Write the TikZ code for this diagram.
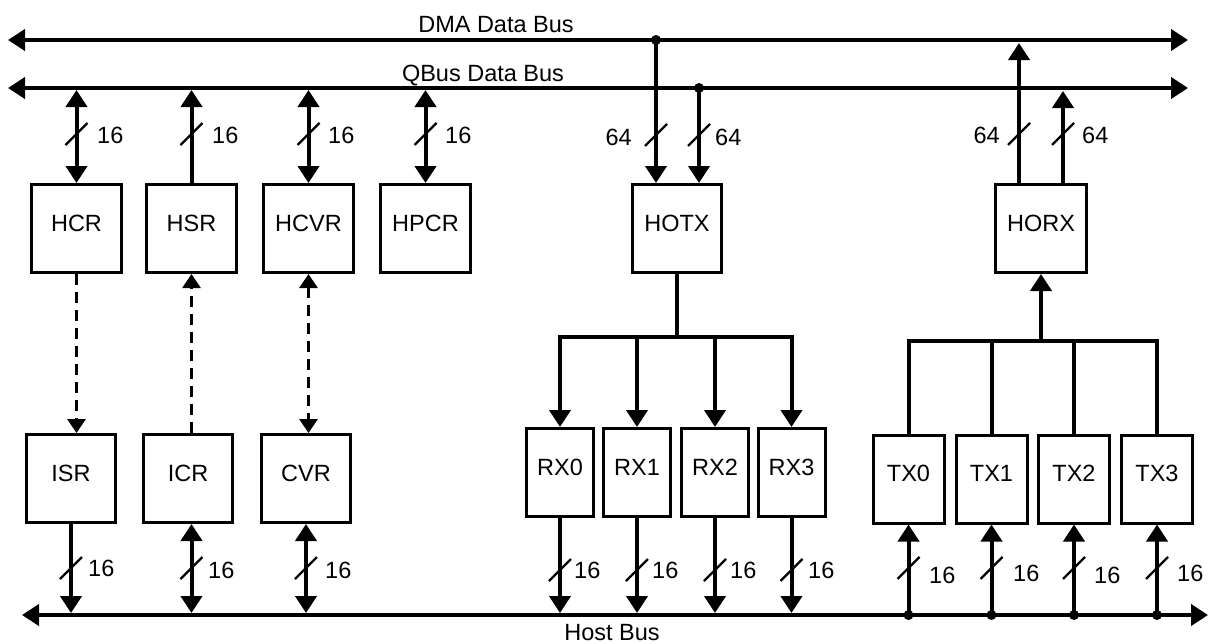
\documentclass[tikz,border=0pt]{standalone}
\usepackage{fontspec}
\setmainfont{Liberation Sans}
\usetikzlibrary{arrows.meta}
\begin{document}
\begin{tikzpicture}[x=1pt,y=-1pt,
  font=\fontsize{23.5}{28}\selectfont,
  >={Triangle[width=21pt,length=17pt]},
  reg/.style={draw, line width=3pt, minimum height=88pt, inner sep=0pt, text height=16pt, text depth=11pt},
  wire/.style={line width=4pt},
  wirecap/.style={line width=4pt, line cap=rect},
  dashwire/.style={line width=3pt, dash pattern=on 11pt off 7pt, >={Triangle[width=18pt,length=14pt]}},
  slashline/.style={line width=2.2pt},
  lbl/.style={inner sep=0pt},
  dotn/.style={circle, fill, inner sep=0pt, minimum size=10pt},
  slash/.pic={\draw[slashline] (-11,11) -- (11,-11);}
]
\useasboundingbox (0,0) rectangle (1212,643);

% buses
\coordinate (dmaL) at (8,40);   \coordinate (dmaR) at (1188,40);
\coordinate (qL) at (8,88);     \coordinate (qR) at (1188,88);
\coordinate (hL) at (22,615);   \coordinate (hR) at (1208,615);
\draw[wire,<->] (dmaL) -- (dmaR);
\draw[wire,<->] (qL) -- (qR);
\draw[wire,<->] (hL) -- (hR);
\node[lbl, anchor=base] (tdma) at (496,32) {DMA Data Bus};
\node[lbl, anchor=base] (tq) at (483,81) {QBus Data Bus};
\node[lbl, anchor=base] (th) at (612,640) {Host Bus};

\coordinate (qtip) at (0,90);
\coordinate (dtip) at (0,43);
\coordinate (htip) at (0,613);

% top boxes
\node[reg, minimum width=90pt] (HCR)  at (76.5,228.5) {HCR};
\node[reg, minimum width=90pt] (HSR)  at (191.5,228.5) {HSR};
\node[reg, minimum width=90pt] (HCVR) at (308.5,228.5) {HCVR};
\node[reg, minimum width=90pt] (HPCR) at (425.5,228.5) {HPCR};
\node[reg, minimum width=89pt] (HOTX) at (677,228.5) {HOTX};
\node[reg, minimum width=91pt] (HORX) at (1041,228.5) {HORX};

% bottom boxes
\node[reg, minimum width=89pt] (ISR) at (71,478.5) {ISR};
\node[reg, minimum width=89pt] (ICR) at (188,478.5) {ICR};
\node[reg, minimum width=89pt] (CVR) at (306,478.5) {CVR};
\node[reg, minimum width=67pt] (RX0) at (560,472.5) {RX0};
\node[reg, minimum width=67pt] (RX1) at (637,472.5) {RX1};
\node[reg, minimum width=67pt] (RX2) at (715,472.5) {RX2};
\node[reg, minimum width=67pt] (RX3) at (791.5,472.5) {RX3};
\node[reg, minimum width=71pt] (TX0) at (908.5,479) {TX0};
\node[reg, minimum width=71pt] (TX1) at (991.5,479) {TX1};
\node[reg, minimum width=71pt] (TX2) at (1074,479) {TX2};
\node[reg, minimum width=71pt] (TX3) at (1157,479) {TX3};

% top connectors to QBus
\draw[wire,<->] (HCR.north) -- (HCR.north |- qtip);
\draw[wire,->] (HSR.north) -- (HSR.north |- qtip);
\draw[wire,<->] (HCVR.north) -- (HCVR.north |- qtip);
\draw[wire,<->] (HPCR.north) -- (HPCR.north |- qtip);

% HOTX from buses
\node[dotn] (dd) at (656,40) {};
\node[dotn] (dq) at (699,88) {};
\draw[wire,->] (dd.center) -- (dd.center |- HOTX.north);
\draw[wire,->] (dq.center) -- (dq.center |- HOTX.north);

% HORX to buses
\coordinate (rd) at (1019,43);
\coordinate (rq) at (1063,91);
\draw[wire,->] (rd |- HORX.north) -- (rd);
\draw[wire,->] (rq |- HORX.north) -- (rq);

% dashed links
\draw[dashwire,->] (HCR.south) -- (HCR.south |- ISR.north);
\draw[dashwire,->] (HSR.south |- ICR.north) -- (HSR.south);
\draw[dashwire,<->] (HCVR.south) -- (HCVR.south |- CVR.north);

% bottom connectors to host bus
\draw[wire,->] (ISR.south) -- (ISR.south |- htip);
\draw[wire,<->] (ICR.south -| HSR.south) -- (htip -| HSR.south);
\draw[wire,<->] (CVR.south) -- (CVR.south |- htip);
\draw[wire,->] (RX0.south) -- (RX0.south |- htip);
\draw[wire,->] (RX1.south) -- (RX1.south |- htip);
\draw[wire,->] (RX2.south) -- (RX2.south |- htip);
\draw[wire,->] (RX3.south) -- (RX3.south |- htip);
\node[dotn] (t0) at (TX0.south |- hL) {};
\node[dotn] (t1) at (TX1.south |- hL) {};
\node[dotn] (t2) at (TX2.south |- hL) {};
\node[dotn] (t3) at (TX3.south |- hL) {};
\draw[wire,->] (t0.center) -- (TX0.south);
\draw[wire,->] (t1.center) -- (TX1.south);
\draw[wire,->] (t2.center) -- (TX2.south);
\draw[wire,->] (t3.center) -- (TX3.south);

% HOTX tree
\coordinate (jt) at (677,337);
\draw[wire] (HOTX.south) -- (jt);
\draw[wirecap] (RX0.north |- jt) -- (RX3.north |- jt);
\draw[wire,->] (RX0.north |- jt) -- (RX0.north);
\draw[wire,->] (RX1.north |- jt) -- (RX1.north);
\draw[wire,->] (RX2.north |- jt) -- (RX2.north);
\draw[wire,->] (RX3.north |- jt) -- (RX3.north);

% HORX tree
\coordinate (jr) at (1041,341);
\draw[wire,->] (jr) -- (HORX.south);
\draw[wirecap] (TX0.north |- jr) -- (TX3.north |- jr);
\draw[wire] (TX0.north) -- (TX0.north |- jr);
\draw[wire] (TX1.north) -- (TX1.north |- jr);
\draw[wire] (TX2.north) -- (TX2.north |- jr);
\draw[wire] (TX3.north) -- (TX3.north |- jr);

% width slashes, top
\pic at (76.5,134) {slash};
\pic at (191.5,134) {slash};
\pic at (308.5,134) {slash};
\pic at (425.5,134) {slash};
\pic at (656,135) {slash};
\pic at (699,135) {slash};
\pic at (1019,134) {slash};
\pic at (1063,134) {slash};
% width slashes, bottom
\pic at (71,568) {slash};
\pic at (191.5,568) {slash};
\pic at (306,568) {slash};
\pic at (560,570) {slash};
\pic at (637,570) {slash};
\pic at (715,570) {slash};
\pic at (791.5,570) {slash};
\pic at (908.5,568) {slash};
\pic at (991.5,568) {slash};
\pic at (1074,568) {slash};
\pic at (1157,568) {slash};

% width labels, top
\node[lbl, anchor=west] (w1) at (97,135) {16};
\node[lbl, anchor=west] (w2) at (212,135) {16};
\node[lbl, anchor=west] (w3) at (328,135) {16};
\node[lbl, anchor=west] (w4) at (445,135) {16};
\node[lbl, anchor=east] (w5) at (632,137) {64};
\node[lbl, anchor=west] (w6) at (715,137) {64};
\node[lbl, anchor=east] (w7) at (1000,135) {64};
\node[lbl, anchor=west] (w8) at (1082,135) {64};
% width labels, bottom
\node[lbl, anchor=west] (b1) at (88,568) {16};
\node[lbl, anchor=west] (b2) at (208,570) {16};
\node[lbl, anchor=west] (b3) at (325,570) {16};
\node[lbl, anchor=west] (b4) at (574,570) {16};
\node[lbl, anchor=west] (b5) at (652,570) {16};
\node[lbl, anchor=west] (b6) at (730,570) {16};
\node[lbl, anchor=west] (b7) at (808,570) {16};
\node[lbl, anchor=west] (b8) at (929,575) {16};
\node[lbl, anchor=west] (b9) at (1013,573) {16};
\node[lbl, anchor=west] (b10) at (1094,575) {16};
\node[lbl, anchor=west] (b11) at (1177,573) {16};
\end{tikzpicture}
\end{document}
